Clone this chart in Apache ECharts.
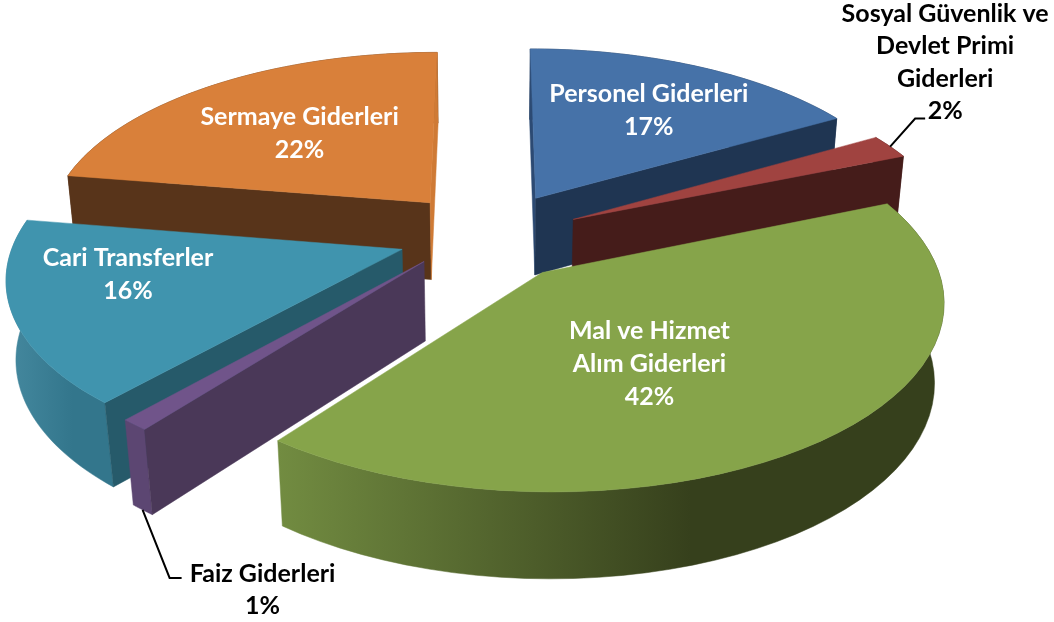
<!DOCTYPE html>
<html><head><meta charset="utf-8">
<style>html,body{margin:0;padding:0;background:#fff}#c{width:1054px;height:622px}</style>
<script src="https://cdn.jsdelivr.net/npm/echarts@6/dist/echarts.min.js"></script>
</head><body><div id="c"></div>
<script>
const categories = ['Personel Giderleri','Sosyal Güvenlik ve\nDevlet Primi\nGiderleri','Mal ve Hizmet\nAlım Giderleri','Faiz Giderleri','Cari Transferler','Sermaye Giderleri'];
const values = [16.6, 2.15, 41.7, 1.0, 16.15, 22.4];

const topColors  = ['#4672a8','#a04340','#86a44a','#70548a','#4094ae','#d9803a'];
const faceStart  = ['#2c4a73','#451c1a','#36401c','#4a3858','#265a6a','#58341a'];
const faceEnd    = ['#1f3552','#451c1a','#36401c','#4a3858','#265a6a','#cf7a35'];
const rimLeft    = ['#1f3552','#451c1a','#728c41','#5c4672','#45899f','#58341a'];
const rimRight   = ['#1f3552','#451c1a','#36401c','#5c4672','#33768c','#58341a'];
const drawOrder  = [5, 0, 1, 4, 3, 2];

// camera & pie model
const view = {cx: 491, cy: 236, Sx: 386, Sy: 179, k: 0.135, h: 0.232, e: 0.25, c: 0.02};
// per-slice layout: nudge = pixel shift of the exploded slice; r = radial fraction of the label; dx,dy = label shift
const nudges = [[-2,0],[-3,3],[-9,0],[-4,-10],[3,-2],[0,0]];
const labelLayout = [
  {r:.62, dx:8, dy:-3},
  {r:1, dx:0, dy:0, leader:[[25,-28],[35,-28]], text:[55,-84]},
  {r:.35, dx:17, dy:37},
  {r:1, dx:0, dy:0, leader:[[27,68],[39,68]], text:[120,80], bottom:true},
  {r:.65, dx:-25, dy:-16},
  {r:.62, dx:8, dy:6}
];
const total = values.reduce((a,b)=>a+b,0);
const angles = []; { let a=0; values.forEach(v=>{const d=v/total*2*Math.PI; angles.push([a,a+d]); a+=d;}); }

function proj(X,Y,Z){
  const w = 1 + view.k*Y + (Z<0?view.c:0);
  return [view.cx + view.Sx*X/w, view.cy - (view.Sy*Y + Z*view.Sx*0.89)/w];
}
function geom(i){
  const [a,b]=angles[i], m=(a+b)/2;
  const ox=view.e*Math.sin(m), oy=view.e*Math.cos(m), N=nudges[i];
  const P=(r,t,z)=>{const p=proj(ox+r*Math.sin(t), oy+r*Math.cos(t), z); return [p[0]+N[0],p[1]+N[1]];};
  return {a,b,m,P};
}
function area(p){let s=0;for(let i=0;i<p.length;i++){const q=p[(i+1)%p.length];s+=p[i][0]*q[1]-q[0]*p[i][1];}return s;}
function poly(points,fill){return {type:'polygon',shape:{points},style:{fill,stroke:fill,lineWidth:0.5}};}
function xGrad(l,r){return new echarts.graphic.LinearGradient(0,0,1,0,[{offset:0,color:l},{offset:.62,color:r},{offset:1,color:r}]);}

function renderSlice(params,api){
  const i=api.value(0), g=geom(i), n=48, h=view.h;
  const rimT=[],rimB=[];
  for(let j=0;j<=n;j++){const t=g.a+(g.b-g.a)*j/n; rimT.push(g.P(1,t,0)); rimB.push(g.P(1,t,-h));}
  const A=g.P(0,0,0), Ab=g.P(0,0,-h);
  const ch=[];
  const sf=[A,rimT[0],rimB[0],Ab], ef=[A,rimT[n],rimB[n],Ab];
  ch.push(poly(rimT.concat(rimB.slice().reverse()), (rimLeft[i]===rimRight[i])?rimLeft[i]:xGrad(rimLeft[i],rimRight[i])));
  if(area(sf)<0) ch.push(poly(sf,faceStart[i]));
  if(area(ef)>0) ch.push(poly(ef,faceEnd[i]));
  ch.push(poly([A].concat(rimT),topColors[i]));
  return {type:'group',children:ch};
}
function renderLabel(params,api){
  const i=api.value(0), g=geom(i), L=labelLayout[i], ch=[];
  const font='bold 25px Lato, "Open Sans", sans-serif';
  const txt=categories[i]+'\n'+Math.round(values[i])+'%';
  if(L.leader){
    const a = L.bottom ? g.P(1,g.m,-view.h) : g.P(1,g.m,0);
    const pts = [a].concat(L.leader.map(o=>[a[0]+o[0],a[1]+o[1]]));
    ch.push({type:'polyline',shape:{points:pts},style:{stroke:'#000',lineWidth:2,fill:null}});
    ch.push({type:'text',style:{text:txt,x:a[0]+L.text[0],y:a[1]+L.text[1],fill:'#000',font,textAlign:'center',textVerticalAlign:'middle',lineHeight:32.5}});
  } else {
    const c=g.P(L.r,g.m,0);
    ch.push({type:'text',style:{text:txt,x:c[0]+L.dx,y:c[1]+L.dy,fill:'#fff',font,textAlign:'center',textVerticalAlign:'middle',lineHeight:33}});
  }
  return {type:'group',children:ch};
}
const seriesData = drawOrder.map(i=>[i,values[i]]);
const chart = echarts.init(document.getElementById('c'),null,{renderer:'canvas'});
chart.setOption({
  animation:false, backgroundColor:'#fff',
  series:[
    {type:'custom',coordinateSystem:'none',renderItem:renderSlice,data:seriesData,silent:true,z:1},
    {type:'custom',coordinateSystem:'none',renderItem:renderLabel,data:seriesData,silent:true,z:2}
  ]
});
</script></body></html>
